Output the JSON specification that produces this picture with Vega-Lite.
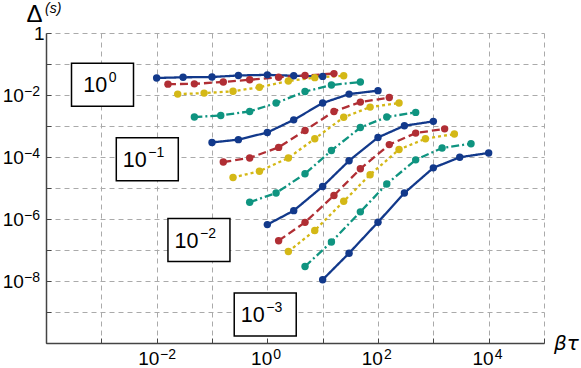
{
  "$schema": "https://vega.github.io/schema/vega-lite/v6.json",
  "width": 498,
  "height": 310,
  "autosize": {"type": "none"},
  "padding": {"left": 46, "top": 33, "right": 37, "bottom": 25},
  "background": "white",
  "config": {
    "view": {"stroke": null},
    "font": "Liberation Sans"
  },
  "datasets": {
    "curves": [
      {"g":0,"c":"A","x":0.01,"y":0.0355},{"g":0,"c":"A","x":0.03,"y":0.0372},{"g":0,"c":"A","x":0.1,"y":0.038},{"g":0,"c":"A","x":0.3,"y":0.0427},{"g":0,"c":"A","x":1,"y":0.0447},{"g":0,"c":"A","x":3,"y":0.0417},{"g":0,"c":"A","x":10,"y":0.0398},
      {"g":0,"c":"B","x":0.016,"y":0.0224},{"g":0,"c":"B","x":0.048,"y":0.0229},{"g":0,"c":"B","x":0.16,"y":0.0263},{"g":0,"c":"B","x":0.48,"y":0.0309},{"g":0,"c":"B","x":1.6,"y":0.0372},{"g":0,"c":"B","x":4.8,"y":0.0427},{"g":0,"c":"B","x":16,"y":0.049},
      {"g":0,"c":"C","x":0.024,"y":0.0107},{"g":0,"c":"C","x":0.072,"y":0.0115},{"g":0,"c":"C","x":0.24,"y":0.0132},{"g":0,"c":"C","x":0.72,"y":0.0178},{"g":0,"c":"C","x":2.4,"y":0.0282},{"g":0,"c":"C","x":7.2,"y":0.0363},{"g":0,"c":"C","x":24,"y":0.0417},
      {"g":0,"c":"D","x":0.048,"y":0.00195},{"g":0,"c":"D","x":0.144,"y":0.00219},{"g":0,"c":"D","x":0.48,"y":0.00295},{"g":0,"c":"D","x":1.44,"y":0.0055},{"g":0,"c":"D","x":4.8,"y":0.0129},{"g":0,"c":"D","x":14.4,"y":0.0209},{"g":0,"c":"D","x":48,"y":0.0263},
      {"g":1,"c":"A","x":0.1,"y":0.000295},{"g":1,"c":"A","x":0.3,"y":0.000363},{"g":1,"c":"A","x":1,"y":0.000617},{"g":1,"c":"A","x":3,"y":0.00158},{"g":1,"c":"A","x":10,"y":0.0055},{"g":1,"c":"A","x":30,"y":0.0107},{"g":1,"c":"A","x":100,"y":0.0138},
      {"g":1,"c":"B","x":0.16,"y":0.000069},{"g":1,"c":"B","x":0.48,"y":0.000093},{"g":1,"c":"B","x":1.6,"y":0.000204},{"g":1,"c":"B","x":4.8,"y":0.00072},{"g":1,"c":"B","x":16,"y":0.00295},{"g":1,"c":"B","x":48,"y":0.0059},{"g":1,"c":"B","x":160,"y":0.0083},
      {"g":1,"c":"C","x":0.24,"y":0.0000219},{"g":1,"c":"C","x":0.72,"y":0.0000347},{"g":1,"c":"C","x":2.4,"y":0.000093},{"g":1,"c":"C","x":7.2,"y":0.000389},{"g":1,"c":"C","x":24,"y":0.00191},{"g":1,"c":"C","x":72,"y":0.00407},{"g":1,"c":"C","x":240,"y":0.0055},
      {"g":1,"c":"D","x":0.48,"y":0.00000347},{"g":1,"c":"D","x":1.44,"y":0.0000069},{"g":1,"c":"D","x":4.8,"y":0.0000288},{"g":1,"c":"D","x":14.4,"y":0.000162},{"g":1,"c":"D","x":48,"y":0.00089},{"g":1,"c":"D","x":144,"y":0.00195},{"g":1,"c":"D","x":480,"y":0.00275},
      {"g":2,"c":"A","x":1,"y":6.6e-7},{"g":2,"c":"A","x":3,"y":1.86e-6},{"g":2,"c":"A","x":10,"y":1.12e-5},{"g":2,"c":"A","x":30,"y":7.6e-5},{"g":2,"c":"A","x":100,"y":4.27e-4},{"g":2,"c":"A","x":300,"y":1.02e-3},{"g":2,"c":"A","x":1000,"y":1.41e-3},
      {"g":2,"c":"B","x":1.6,"y":2.0e-7},{"g":2,"c":"B","x":4.8,"y":7.8e-7},{"g":2,"c":"B","x":16,"y":5.75e-6},{"g":2,"c":"B","x":48,"y":4.17e-5},{"g":2,"c":"B","x":160,"y":2.51e-4},{"g":2,"c":"B","x":480,"y":5.9e-4},{"g":2,"c":"B","x":1600,"y":8.1e-4},
      {"g":2,"c":"C","x":2.4,"y":8.9e-8},{"g":2,"c":"C","x":7.2,"y":4.27e-7},{"g":2,"c":"C","x":24,"y":3.72e-6},{"g":2,"c":"C","x":72,"y":2.69e-5},{"g":2,"c":"C","x":240,"y":1.74e-4},{"g":2,"c":"C","x":720,"y":3.89e-4},{"g":2,"c":"C","x":2400,"y":5.5e-4},
      {"g":2,"c":"D","x":4.8,"y":2.95e-8},{"g":2,"c":"D","x":14.4,"y":1.82e-7},{"g":2,"c":"D","x":48,"y":1.7e-6},{"g":2,"c":"D","x":144,"y":1.35e-5},{"g":2,"c":"D","x":480,"y":8.1e-5},{"g":2,"c":"D","x":1440,"y":1.95e-4},{"g":2,"c":"D","x":4800,"y":2.69e-4},
      {"g":3,"c":"A","x":10,"y":1.1e-8},{"g":3,"c":"A","x":30,"y":7.9e-8},{"g":3,"c":"A","x":100,"y":7.9e-7},{"g":3,"c":"A","x":300,"y":6.9e-6},{"g":3,"c":"A","x":1000,"y":4.47e-5},{"g":3,"c":"A","x":3000,"y":9.8e-5},{"g":3,"c":"A","x":10000,"y":1.35e-4}
    ],
    "boxes": [
      {"bx":0.00105,"by":0.0215,"tx":0.0013,"b":"10","e":"0"},
      {"bx":0.00677,"by":0.000085,"tx":0.00677,"b":"10","e":"−1"},
      {"bx":0.0581,"by":2.09e-7,"tx":0.0581,"b":"10","e":"−2"},
      {"bx":0.916,"by":8.3e-10,"tx":0.916,"b":"10","e":"−3"}
    ],
    "xexpneg": [
      {"v":0.01,"at":1e-10,"e":"−2"}
    ],
    "xexppos": [
      {"v":1,"at":1e-10,"e":"0"},{"v":100,"at":1e-10,"e":"2"},{"v":10000,"at":1e-10,"e":"4"}
    ],
    "yexp": [
      {"v":0.01,"at":0.0001,"e":"−2"},{"v":0.0001,"at":0.0001,"e":"−4"},{"v":0.000001,"at":0.0001,"e":"−6"},{"v":1e-8,"at":0.0001,"e":"−8"}
    ],
    "ysup": [{"px":0.0001,"py":1,"t":"(s)"}]
  },
  "encoding": {
    "x": {
      "field": "x", "type": "quantitative",
      "scale": {"type": "log", "domain": [0.0001, 100000], "nice": false},
      "axis": {
        "values": [0.0001,0.001,0.01,0.1,1,10,100,1000,10000,100000],
        "labelExpr": "indexof([-2,0,2,4], round(log(datum.value)/LN10)) >= 0 ? '10' : ''",
        "labelFontSize": 19, "labelColor": "black", "labelFont": "Liberation Sans",
        "labelPadding": 11, "labelFlush": false, "labelOverlap": false,
        "labelOffset": {"condition": {"test": "datum.value < 0.1", "value": -8.4}, "value": -6.2},
        "tickSize": -5, "tickColor": "#444", "tickWidth": 1,
        "domainColor": "#444", "domainWidth": 1.5,
        "grid": true, "gridDash": [5, 4], "gridColor": "#aaaaaa", "gridWidth": 1,
        "title": "βτ", "titleFont": "DejaVu Sans", "titleFontStyle": "italic", "titleFontWeight": "normal",
        "titleFontSize": 20, "titleColor": "black",
        "titleX": 520, "titleY": 6, "titleAlign": "center", "titleBaseline": "alphabetic"
      }
    },
    "y": {
      "field": "y", "type": "quantitative",
      "scale": {"type": "log", "domain": [1e-10, 1], "nice": false},
      "axis": {
        "values": [1e-10,1e-9,1e-8,1e-7,1e-6,1e-5,1e-4,1e-3,1e-2,1e-1,1],
        "labelExpr": "round(log(datum.value)/LN10) == 0 ? '1' : indexof([-2,-4,-6,-8], round(log(datum.value)/LN10)) >= 0 ? '10' : ''",
        "labelFontSize": 19, "labelColor": "black", "labelFont": "Liberation Sans",
        "labelPadding": {"condition": {"test": "datum.value == 1", "value": 7}, "value": 27.7},
        "labelFlush": false, "labelOverlap": false,
        "tickSize": -5, "tickColor": "#444", "tickWidth": 1,
        "domainColor": "#444", "domainWidth": 1.5,
        "grid": true, "gridDash": [5, 4], "gridColor": "#aaaaaa", "gridWidth": 1,
        "title": "Δ", "titleFont": "Liberation Sans", "titleFontWeight": "normal",
        "titleFontSize": 24, "titleColor": "black", "titleAngle": 0,
        "titleX": -20, "titleY": -11.5, "titleAlign": "left", "titleBaseline": "alphabetic"
      }
    }
  },
  "layer": [
    {
      "data": {"name": "curves"},
      "mark": {"type": "line", "strokeWidth": 2.3},
      "encoding": {
        "color": {"field": "c", "type": "nominal", "legend": null,
          "scale": {"domain": ["A","B","C","D"], "range": ["#12398b","#b02e34","#d4b816","#0f9480"]}},
        "strokeDash": {"field": "c", "type": "nominal", "legend": null,
          "scale": {"domain": ["A","B","C","D"], "range": [[1,0],[8,4],[3,3],[8,3,2,3]]}},
        "detail": {"field": "g", "type": "nominal"}
      }
    },
    {
      "data": {"name": "curves"},
      "mark": {"type": "point", "filled": true, "size": 55, "opacity": 1},
      "encoding": {
        "color": {"field": "c", "type": "nominal", "legend": null,
          "scale": {"domain": ["A","B","C","D"], "range": ["#12398b","#b02e34","#d4b816","#0f9480"]}}
      }
    },
    {
      "data": {"name": "boxes"},
      "mark": {"type": "point", "shape": "M-1,-0.694H1V0.694H-1Z", "size": 3844, "filled": true, "fill": "white", "stroke": "black", "strokeWidth": 1.5, "opacity": 1, "fillOpacity": 1, "strokeOpacity": 1},
      "encoding": {
        "x": {"field": "bx", "type": "quantitative"},
        "y": {"field": "by", "type": "quantitative"}
      }
    },
    {
      "data": {"name": "boxes"},
      "mark": {"type": "text", "fontSize": 21.5, "font": "Liberation Sans", "color": "black", "align": "right", "baseline": "alphabetic", "dx": -0.5, "dy": 7.5},
      "encoding": {
        "x": {"field": "tx", "type": "quantitative"},
        "y": {"field": "by", "type": "quantitative"},
        "text": {"field": "b"}
      }
    },
    {
      "data": {"name": "boxes"},
      "mark": {"type": "text", "fontSize": 14, "font": "Liberation Sans", "color": "black", "align": "left", "baseline": "alphabetic", "dx": 1, "dy": -2.5},
      "encoding": {
        "x": {"field": "tx", "type": "quantitative"},
        "y": {"field": "by", "type": "quantitative"},
        "text": {"field": "e"}
      }
    },
    {
      "data": {"name": "xexpneg"},
      "mark": {"type": "text", "fontSize": 14, "font": "Liberation Sans", "color": "black", "align": "left", "baseline": "alphabetic", "dx": 3.3, "dy": 15.6, "clip": false},
      "encoding": {
        "x": {"field": "v", "type": "quantitative"},
        "y": {"field": "at", "type": "quantitative"},
        "text": {"field": "e"}
      }
    },
    {
      "data": {"name": "xexppos"},
      "mark": {"type": "text", "fontSize": 14, "font": "Liberation Sans", "color": "black", "align": "left", "baseline": "alphabetic", "dx": 6, "dy": 15.6, "clip": false},
      "encoding": {
        "x": {"field": "v", "type": "quantitative"},
        "y": {"field": "at", "type": "quantitative"},
        "text": {"field": "e"}
      }
    },
    {
      "data": {"name": "yexp"},
      "mark": {"type": "text", "fontSize": 14, "font": "Liberation Sans", "color": "black", "align": "left", "baseline": "alphabetic", "dx": -22, "dy": 0.5, "clip": false},
      "encoding": {
        "x": {"field": "at", "type": "quantitative"},
        "y": {"field": "v", "type": "quantitative"},
        "text": {"field": "e"}
      }
    },
    {
      "data": {"name": "ysup"},
      "mark": {"type": "text", "fontSize": 14, "font": "Liberation Sans", "fontStyle": "italic", "color": "black", "align": "left", "baseline": "alphabetic", "dx": -1, "dy": -20, "clip": false},
      "encoding": {
        "x": {"field": "px", "type": "quantitative"},
        "y": {"field": "py", "type": "quantitative"},
        "text": {"field": "t"}
      }
    }
  ]
}
